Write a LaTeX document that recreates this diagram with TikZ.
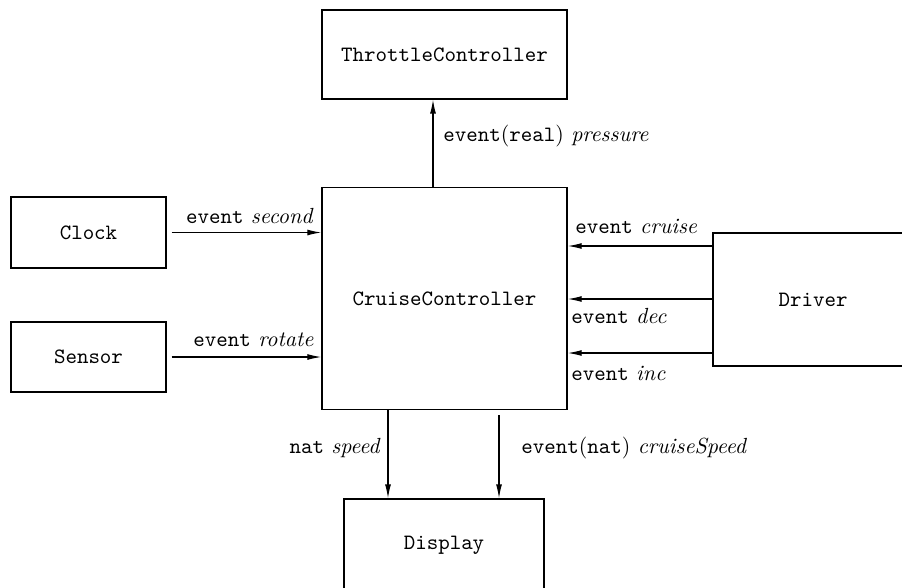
\documentclass[tikz,border=0pt]{standalone}
\usetikzlibrary{arrows.meta,calc}
\begin{document}
\begin{tikzpicture}[
  x=0.4566pt, y=-0.4566pt,
  box/.style={draw, line width=0.55pt, font=\ttfamily, inner sep=0pt},
  arr/.style={-{Latex[length=6.4pt,width=2.7pt]}, line width=0.55pt},
  lbl/.style={inner sep=0pt}
]
\useasboundingbox (0,0) rectangle (902,587);

% components
\node[box, minimum width=111.9pt, minimum height=40.6pt]  (Throttle) at (444.5,54.5) {ThrottleController};
\node[box, minimum width=111.9pt, minimum height=101.4pt] (Cruise)   at (444.5,298.5) {CruiseController};
\node[box, minimum width=70.8pt,  minimum height=32.4pt]  (Clock)    at (88.5,232.5) {Clock};
\node[box, minimum width=70.8pt,  minimum height=32.0pt]  (Sensor)   at (88.5,357) {Sensor};
\node[box, minimum width=91.3pt,  minimum height=60.7pt]  (Driver)   at (813,299.5) {Driver};
\node[box, minimum width=91.3pt,  minimum height=42.0pt]  (Display)  at (444,545) {Display};

% helper coordinates for connector positions
\coordinate (xp) at (433,0);
\coordinate (xs) at (388,0);
\coordinate (xc) at (499,0);
\coordinate (yc) at (0,246);
\coordinate (yd) at (0,299);
\coordinate (yi) at (0,353);

% connectors
\draw[arr] (xp |- Cruise.north) -- (xp |- Throttle.south);
\draw[arr, shorten <=2.3pt] (Clock.east) -- (Clock.east -| Cruise.west);
\draw[arr, shorten <=2.3pt] (Sensor.east) -- (Sensor.east -| Cruise.west);
\draw[arr] (Driver.west |- yc) -- (Cruise.east |- yc);
\draw[arr] (Driver.west |- yd) -- (Cruise.east |- yd);
\draw[arr] (Driver.west |- yi) -- (Cruise.east |- yi);
\draw[arr] (xs |- Cruise.south) -- (xs |- Display.north);
\draw[arr, shorten <=2.3pt] (xc |- Cruise.south) -- (xc |- Display.north);

% labels
\node[lbl, anchor=west] (lPressure) at (443,136) {\texttt{event}(\texttt{real}) \textit{pressure}};
\node[lbl, anchor=east] (lSecond) at (314,216) {\texttt{event} \textit{second}};
\node[lbl, anchor=east] (lRotate) at (314,340) {\texttt{event} \textit{rotate}};
\node[lbl, anchor=west] (lCruise) at (575,226) {\texttt{event} \textit{cruise}};
\node[lbl, anchor=west] (lDec) at (571,316) {\texttt{event} \textit{dec}};
\node[lbl, anchor=west] (lInc) at (571,373) {\texttt{event} \textit{inc}};
\node[lbl, anchor=east] (lSpeed) at (381,448) {\texttt{nat} \textit{speed}};
\node[lbl, anchor=west] (lCSpeed) at (521,448) {\texttt{event}(\texttt{nat}) \textit{cruiseSpeed}};
\end{tikzpicture}
\end{document}
